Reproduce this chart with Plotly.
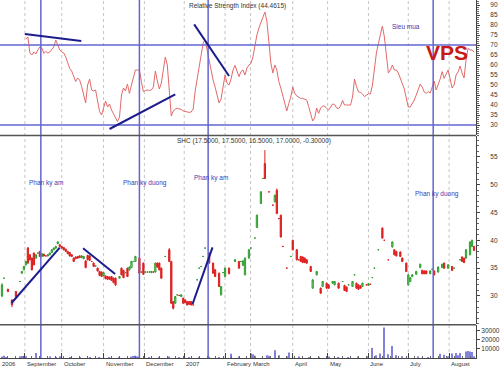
import plotly.graph_objects as go

# ---------------- data ----------------
# trading-day index 0..238 (mid Aug 2006 .. mid Aug 2007)
month_ticks = [0, 12.5, 31, 52, 72.5, 92.5, 113, 125.8, 147, 164.5, 185, 205, 225.5]
month_labels = ["2006", "September", "October", "November", "December", "2007",
                "February", "March", "April", "May", "June", "July", "August"]

rsi_values = [73, 74, 66, 65, 66.5, 65.5, 67.5, 69, 68.5, 65.8, 66.7, 66, 66.5, 67.5, 69, 72.5, 70, 67.5, 66.5, 66,
              64, 61, 58.3, 57, 54, 51.7, 53.5, 52.5, 49.2, 44.2, 41, 50, 53, 47.5, 47, 47.5, 42.5, 36.7, 35, 39,
              42, 39, 40.5, 37.5, 35.5, 33.5, 31.7, 34, 45, 48.5, 47, 50.5, 45.8, 50, 54.5, 57.5, 57.5, 57.5, 51.7, 46.7,
              47.3, 47.5, 47.3, 47.5, 49, 57, 52, 48, 51, 57, 64, 60, 45, 34.5, 37, 38, 38.3, 38, 37.8, 37,
              36.7, 36.5, 36.3, 36.5, 38, 47, 53, 59, 64.5, 71, 72.5, 67, 62.5, 57, 52.5, 49, 45, 41, 43, 50,
              55, 50.8, 50, 53, 57.5, 59.8, 57, 54.2, 56.7, 57.5, 55, 58.5, 60, 60.8, 64, 70, 75, 78.5, 81, 84.5,
              86.5, 82, 70.8, 61, 56, 60, 57.5, 51.7, 48.5, 44.5, 40, 37, 40.8, 44, 49, 45.8, 44.5, 43.8, 43.3, 43.3,
              43, 42.5, 39.2, 36, 32, 33.5, 38.5, 35.8, 38.5, 39.5, 39.5, 38.3, 37.5, 39, 40.5, 40.3, 38.5, 38.2, 39.5, 42.3,
              40, 40, 40, 40, 44, 53, 49.2, 46.5, 46.3, 45.5, 44.2, 45, 45.6, 45.5, 50, 58, 66, 70.8, 75.5, 79.5,
              74, 63, 56, 57.5, 60, 57.5, 57.5, 56, 53.5, 51, 48, 43.5, 39, 39, 40.5, 42.5, 45, 48, 50.5, 49,
              46.5, 45.8, 46.7, 46, 49.5, 52, 47.5, 50, 53, 56.7, 53.3, 55.5, 57.5, 53, 48.5, 50, 55, 56.5, 59.5, 56,
              53.5, 62.5, 68.3, 67.5, 67.5, 66.5]
rsi_day = list(range(13, 13 + len(rsi_values)))

price_day = [1, 2, 4, 6, 8, 10, 11, 12, 13, 14, 15, 16, 17, 18, 19, 20, 21, 22, 23, 24,
             25, 26, 27, 28, 29, 30, 31, 32, 33, 34, 35, 36, 37, 38, 39, 40, 41, 42, 43, 44,
             45, 46, 47, 48, 49, 50, 51, 52, 53, 54, 55, 56, 57, 58, 60, 61, 62, 63, 64, 65,
             66, 67, 68, 70, 71, 72, 73, 74, 75, 76, 77, 78, 79, 80, 81, 83, 85, 86, 87, 88,
             89, 90, 91, 92, 93, 94, 95, 96, 97, 99, 100, 101, 102, 103, 105, 107, 108, 110, 111, 112,
             113, 115, 118, 120, 121, 122, 123, 125, 126, 128, 129, 131, 132, 133, 135, 137, 138, 139, 140, 141,
             142, 144, 146, 147, 149, 150, 151, 152, 153, 154, 156, 157, 159, 161, 162, 164, 165, 167, 168, 170,
             172, 173, 174, 175, 177, 178, 179, 180, 181, 182, 184, 185, 186, 187, 188, 190, 192, 193, 195, 197,
             198, 199, 201, 202, 204, 205, 206, 207, 209, 211, 212, 213, 214, 216, 217, 218, 220, 222, 223, 225,
             227, 228, 231, 232, 233, 234, 236, 237, 238]
price_open = [30.0, 33.2, 31.2, 29.3, 30.8, 32.6, 34.1, 34.7, 35.6, 38.6, 37.4, 36.8, 37.7, 36.8, 37.7, 38.0, 37.1, 37.5, 37.2, 37.2,
              37.4, 37.8, 38.3, 38.6, 39.4, 39.2, 38.9, 38.7, 38.4, 38.0, 37.8, 37.4, 36.8, 37.0, 37.1, 37.2, 36.9, 36.7, 36.3, 37.3,
              37.2, 36.2, 35.9, 35.4, 35.0, 34.4, 34.3, 33.6, 33.6, 33.5, 33.4, 33.5, 33.2, 33.2, 33.2, 35.0, 34.6, 34.2, 35.0, 34.7,
              35.1, 36.2, 36.2, 36.8, 34.3, 35.9, 34.3, 34.3, 34.3, 34.2, 34.3, 34.3, 35.9, 35.9, 35.0, 37.1, 38.3, 36.2, 29.0, 28.7,
              30.2, 30.1, 29.9, 29.6, 29.3, 29.0, 29.0, 29.0, 28.4, 32.9, 35.0, 35.3, 37.1, 38.6, 37.7, 35.9, 34.7, 34.1, 30.2, 34.2,
              33.5, 35.0, 36.2, 36.2, 36.2, 35.5, 33.8, 36.8, 38.6, 40.4, 42.3, 46.6, 51.1, 53.8, 48.7, 46.3, 46.9, 49.0, 43.9, 44.5,
              38.9, 35.0, 37.1, 40.0, 38.3, 36.5, 37.1, 37.0, 36.8, 36.5, 35.3, 31.4, 33.8, 31.4, 31.7, 32.3, 32.0, 32.3, 32.0, 32.3,
              32.6, 31.9, 31.6, 32.0, 31.7, 33.8, 32.3, 32.0, 31.8, 31.7, 32.0, 31.9, 32.1, 33.3, 35.0, 38.3, 42.2, 40.0, 36.5, 38.8,
              38.3, 38.0, 37.9, 36.8, 35.9, 32.0, 32.6, 33.5, 33.9, 35.1, 34.6, 34.5, 34.5, 34.0, 34.8, 34.5, 34.3, 35.1, 35.9, 35.0,
              35.3, 35.0, 36.5, 37.0, 36.8, 36.8, 37.4, 38.9, 38.9]
price_high = [32.3, 33.2, 31.3, 29.4, 30.9, 32.6, 34.5, 35.4, 36.3, 38.8, 37.5, 36.9, 37.8, 37.5, 37.7, 38.1, 37.7, 37.6, 37.2, 37.5,
              37.8, 38.4, 38.7, 39.0, 39.8, 39.3, 39.0, 38.8, 38.5, 38.1, 37.9, 37.5, 36.9, 37.1, 37.2, 37.3, 37.3, 37.2, 36.4, 37.4,
              37.3, 36.2, 36.0, 35.4, 35.1, 34.5, 34.4, 34.3, 33.7, 33.6, 33.5, 33.6, 33.3, 33.3, 33.6, 35.1, 34.7, 34.2, 35.1, 35.3,
              36.3, 36.2, 37.2, 36.9, 34.3, 36.0, 34.3, 34.3, 34.3, 34.5, 34.3, 36.0, 36.0, 36.0, 35.1, 37.1, 38.6, 36.3, 29.1, 30.0,
              30.2, 30.1, 30.3, 29.7, 29.4, 29.1, 29.1, 29.1, 28.4, 32.9, 35.0, 35.3, 37.1, 38.6, 37.8, 36.0, 34.8, 34.2, 31.8, 34.2,
              35.1, 35.1, 36.6, 36.3, 36.2, 36.4, 36.9, 38.4, 38.6, 40.4, 44.6, 48.8, 51.1, 56.2, 48.7, 46.3, 48.2, 49.3, 43.9, 44.6,
              38.9, 35.0, 37.1, 40.1, 38.4, 36.5, 37.2, 37.1, 36.9, 36.6, 35.4, 33.0, 34.5, 31.5, 32.7, 32.4, 32.1, 32.7, 32.7, 32.4,
              32.6, 32.0, 31.7, 32.0, 32.7, 33.8, 32.4, 32.1, 31.9, 32.4, 32.0, 32.3, 32.1, 33.3, 35.0, 38.3, 42.3, 40.0, 36.5, 39.8,
              38.4, 38.1, 38.0, 36.9, 36.0, 33.9, 33.4, 33.9, 34.5, 35.8, 34.7, 34.6, 34.6, 34.6, 34.8, 34.6, 35.3, 35.8, 36.0, 35.7,
              35.4, 35.0, 36.5, 37.1, 36.9, 38.4, 39.8, 40.1, 39.0]
price_low = [29.8, 33.2, 30.7, 28.0, 29.8, 32.6, 34.0, 34.6, 35.5, 35.8, 36.4, 34.6, 35.5, 36.7, 37.7, 37.0, 37.0, 37.1, 37.2, 37.1,
             37.3, 37.7, 38.2, 38.5, 39.3, 38.8, 38.5, 38.2, 37.9, 37.5, 37.1, 37.0, 36.1, 36.6, 36.7, 36.8, 36.8, 36.6, 35.0, 36.4,
             36.3, 36.2, 35.2, 35.4, 34.4, 33.6, 33.4, 33.5, 33.0, 32.9, 32.9, 32.7, 32.3, 31.8, 33.1, 33.7, 33.2, 34.2, 33.4, 34.6,
             35.0, 36.2, 36.1, 34.0, 34.3, 33.8, 34.3, 34.3, 34.3, 34.1, 34.3, 34.2, 35.1, 34.6, 33.1, 37.1, 36.1, 28.6, 27.6, 28.6,
             30.2, 30.1, 29.8, 28.6, 28.7, 28.3, 28.4, 28.3, 28.4, 32.9, 35.0, 35.3, 37.1, 38.6, 35.8, 34.0, 33.4, 31.6, 30.1, 34.2,
             33.4, 33.9, 36.1, 34.9, 36.2, 35.4, 33.7, 36.7, 38.6, 40.4, 42.2, 46.5, 51.1, 51.0, 48.7, 46.3, 46.8, 44.7, 43.9, 40.5,
             38.9, 35.0, 37.1, 38.2, 36.4, 36.5, 36.1, 35.9, 35.9, 35.8, 34.3, 31.3, 33.7, 30.4, 31.6, 31.3, 31.3, 32.2, 31.9, 31.3,
             32.6, 30.9, 30.7, 32.0, 31.6, 33.8, 31.3, 31.1, 31.3, 31.6, 32.0, 31.8, 32.1, 33.3, 35.0, 38.3, 40.3, 40.0, 36.5, 38.7,
             37.3, 37.1, 37.0, 36.1, 34.3, 31.9, 32.5, 33.4, 33.8, 35.0, 33.9, 33.9, 33.9, 33.9, 34.8, 33.7, 34.2, 35.0, 34.9, 34.9,
             34.5, 35.0, 36.5, 36.1, 35.9, 36.7, 37.3, 38.8, 38.1]
price_close = [32.0, 33.2, 30.8, 28.4, 29.9, 32.6, 34.4, 35.3, 36.2, 35.9, 36.5, 34.7, 35.6, 37.4, 37.7, 37.1, 37.6, 37.2, 37.2, 37.4,
               37.7, 38.3, 38.6, 38.9, 39.7, 38.9, 38.6, 38.3, 38.0, 37.6, 37.2, 37.1, 36.2, 36.7, 36.8, 36.9, 37.2, 37.1, 35.1, 36.5,
               36.4, 36.2, 35.3, 35.4, 34.5, 33.7, 33.5, 34.2, 33.1, 33.0, 33.0, 32.8, 32.4, 32.0, 33.5, 33.8, 33.3, 34.2, 33.5, 35.2,
               36.2, 36.2, 37.1, 34.1, 34.3, 33.9, 34.3, 34.3, 34.3, 34.4, 34.3, 35.9, 35.2, 34.7, 33.2, 37.1, 36.2, 28.7, 27.8, 29.9,
               30.2, 30.1, 30.2, 28.7, 28.8, 28.4, 28.5, 28.4, 28.4, 32.9, 35.0, 35.3, 37.1, 38.6, 35.9, 34.1, 33.5, 31.7, 31.7, 34.2,
               35.0, 34.0, 36.5, 35.0, 36.2, 36.3, 36.8, 38.3, 38.6, 40.4, 44.5, 48.7, 51.1, 51.1, 48.7, 46.3, 48.1, 44.8, 43.9, 40.6,
               38.9, 35.0, 37.1, 38.3, 36.5, 36.5, 36.2, 36.0, 36.0, 35.9, 34.4, 32.9, 34.4, 30.5, 32.6, 31.4, 31.4, 32.6, 32.6, 31.4,
               32.6, 31.0, 30.8, 32.0, 32.6, 33.8, 31.4, 31.2, 31.4, 32.3, 32.0, 32.2, 32.1, 33.3, 35.0, 38.3, 40.4, 40.0, 36.5, 39.7,
               37.4, 37.2, 37.1, 36.2, 34.4, 33.8, 33.3, 33.8, 34.4, 35.7, 34.0, 34.0, 34.0, 34.5, 34.8, 33.8, 35.2, 35.7, 35.0, 35.6,
               34.6, 35.0, 36.5, 36.2, 36.0, 38.3, 39.7, 40.0, 38.2]

vol_day = [1, 2, 3, 10, 11, 12, 13, 18, 20, 25, 28, 30, 35, 40, 45, 50, 55, 60, 66, 67,
           68, 69, 70, 75, 80, 85, 90, 95, 100, 105, 110, 116, 120, 126, 127, 128, 134, 135, 138, 140,
           144, 145, 150, 155, 160, 165, 170, 175, 180, 185, 187, 189, 191, 193, 195, 197, 199, 202, 210, 215,
           221, 223, 225, 227, 229, 230, 231, 234, 235, 236, 237, 238]
vol_value = [1500, 2500, 1200, 1800, 2200, 1500, 2000, 5500, 1200, 1500, 1000, 1800, 800, 1200, 900, 700, 1000, 800, 1500, 2200,
             2500, 1800, 1500, 900, 1000, 1500, 700, 800, 1200, 1300, 900, 4500, 1500, 5000, 4000, 2500, 3000, 2500, 8500, 3000,
             2000, 6000, 1500, 1000, 1200, 1500, 1200, 1000, 1500, 2000, 11000, 3000, 5000, 33000, 4000, 13000, 3000, 2000, 1500, 1200,
             4500, 3500, 2000, 5000, 5500, 3000, 5500, 7000, 7500, 7000, 6500, 2000]

signal_days = [20.5, 70, 104.5, 217.5]
rsi_levels = [70, 30]

# drawn trend lines: (day0, value0, day1, value1)
rsi_trend = [(12.5, 75.5, 40.8, 72.0), (55, 28.0, 88, 45.3), (97.5, 80.3, 115, 54.5)]
price_trend = [(5.8, 28.74, 30, 38.67), (41.7, 38.56, 57.8, 33.95), (96.7, 28.56, 106.7, 38.74)]

# ---------------- figure ----------------
FONT = "Liberation Sans, Arial, sans-serif"
BLUE = "#6464d2"
NAVY = "#1c1c8c"
LBLUE = "#3c3cb4"

fig = go.Figure()

fig.add_trace(go.Scatter(x=rsi_day, y=rsi_values, mode="lines", xaxis="x", yaxis="y",
                         line=dict(color="#e26a6a", width=1), showlegend=False, hoverinfo="skip"))

fig.add_trace(go.Candlestick(x=price_day, open=price_open, high=price_high, low=price_low, close=price_close,
                             xaxis="x", yaxis="y2", showlegend=False, whiskerwidth=0,
                             increasing=dict(line=dict(color="#2e9e2e", width=1), fillcolor="#9ad39a"),
                             decreasing=dict(line=dict(color="#dd2020", width=1), fillcolor="#dd2020")))

fig.add_trace(go.Bar(x=vol_day, y=vol_value, xaxis="x", yaxis="y3", width=0.6,
                     marker=dict(color="#8282dc", line=dict(width=0)), showlegend=False))

shapes = []
for d in month_ticks[1:]:
    shapes.append(dict(type="line", xref="x", yref="paper", x0=d, x1=d, y0=0, y1=1,
                       line=dict(color="#c4c4c4", width=1, dash="dot"), layer="below"))
for d in signal_days:
    shapes.append(dict(type="line", xref="x", yref="paper", x0=d, x1=d, y0=0, y1=1,
                       line=dict(color=BLUE, width=1.5)))
for lv in rsi_levels:
    shapes.append(dict(type="line", xref="paper", yref="y", x0=0, x1=1, y0=lv, y1=lv,
                       line=dict(color=BLUE, width=1.5)))
for (a, b, c, e) in rsi_trend:
    shapes.append(dict(type="line", xref="x", yref="y", x0=a, y0=b, x1=c, y1=e,
                       line=dict(color=NAVY, width=2)))
for (a, b, c, e) in price_trend:
    shapes.append(dict(type="line", xref="x", yref="y2", x0=a, y0=b, x1=c, y1=e,
                       line=dict(color=NAVY, width=2)))
# panel separators
for yp in [0.6215, 0.0929]:
    shapes.append(dict(type="line", xref="paper", yref="paper", x0=0, x1=1, y0=yp, y1=yp,
                       line=dict(color="#555555", width=1.5)))

annotations = []
for d, lab in zip(month_ticks, month_labels):
    annotations.append(dict(x=d, y=0, xref="x", yref="paper", text=lab, showarrow=False,
                            xanchor="left", yanchor="top", xshift=0, yshift=-1,
                            font=dict(family=FONT, size=6, color="#333333")))

def txt(x, y, yref, s, color, anchor="left", size=6.5):
    annotations.append(dict(x=x, y=y, xref="x", yref=yref, text=s, showarrow=False,
                            xanchor=anchor, yanchor="middle",
                            font=dict(family=FONT, size=size, color=color)))

txt(119.3, 89.5, "y", "Relative Strength Index (44.4615)", "#333333", anchor="center")
txt(195.8, 79.2, "y", "Sieu mua", LBLUE)
txt(88, 57.9, "y2", "SHC (17.5000, 17.5000, 16.5000, 17.0000, -0.30000)", "#333333")
txt(13.7, 50.3, "y2", "Phan ky am", LBLUE)
txt(61, 50.3, "y2", "Phan ky duong", LBLUE)
txt(96.5, 51.2, "y2", "Phan ky am", LBLUE)
txt(207.5, 48.4, "y2", "Phan ky duong", LBLUE)
annotations.append(dict(x=224.5, y=66.5, xref="x", yref="y", text="<b>VPS</b>", showarrow=False,
                        xanchor="center", yanchor="middle",
                        font=dict(family=FONT, size=21, color="#c81818")))

axis_common = dict(side="right", anchor="x", showgrid=False, zeroline=False, showline=True,
                   linecolor="#444444", linewidth=1, ticks="outside", ticklen=3, tickcolor="#444444",
                   tickfont=dict(family=FONT, size=6.5, color="#333333"), fixedrange=True)

fig.update_layout(
    width=500, height=368,
    margin=dict(l=0, r=22, t=0, b=10),
    paper_bgcolor="white", plot_bgcolor="white",
    showlegend=False, boxgap=0.1,
    xaxis=dict(domain=[0, 1], anchor="y3", range=[0, 239], showgrid=False, zeroline=False,
               showticklabels=False, showline=True, linecolor="#444444", linewidth=1,
               ticks="inside", tickvals=month_ticks, ticklen=5, tickcolor="#444444",
               minor=dict(ticks="inside", dtick=4, ticklen=2, tickcolor="#666666"),
               rangeslider=dict(visible=False), fixedrange=True),
    yaxis=dict(domain=[0.6229, 1], range=[25, 92.5], tickvals=list(range(30, 95, 5)),
               ticklabelstandoff=9, minor=dict(ticks="outside", dtick=1, ticklen=2, tickcolor="#666666"),
               **axis_common),
    yaxis2=dict(domain=[0.0936, 0.6201], range=[24.88, 58.73], tickvals=list(range(30, 60, 5)),
                ticklabelstandoff=9, minor=dict(ticks="outside", dtick=1, ticklen=2, tickcolor="#666666"),
                **axis_common),
    yaxis3=dict(domain=[0, 0.0922], range=[0, 35800], tickvals=[10000, 20000, 30000],
                tickformat="d", ticklabelstandoff=0, **axis_common),
    shapes=shapes, annotations=annotations,
)

fig.write_html("out.html")
